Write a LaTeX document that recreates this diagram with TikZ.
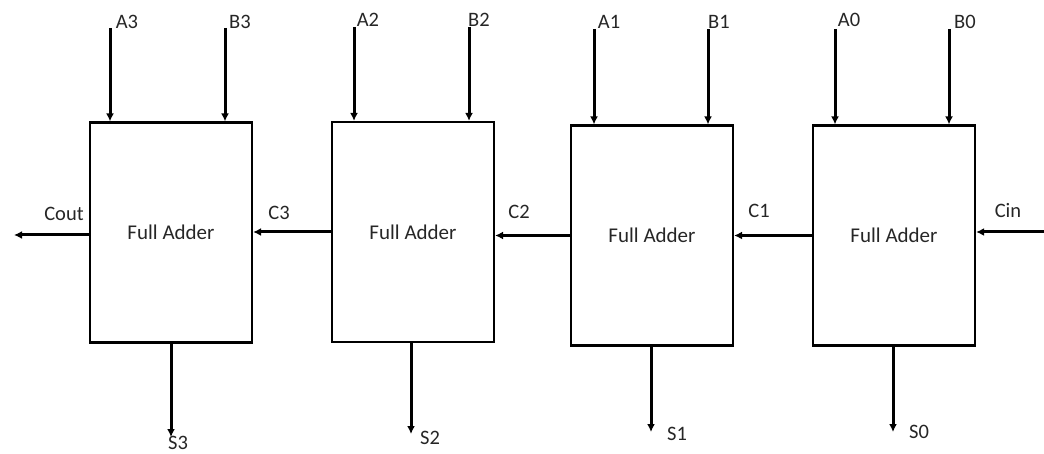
\documentclass[tikz,border=0pt]{standalone}
\usepackage{fontspec}
\setmainfont{Carlito}
\usetikzlibrary{arrows.meta}
\tikzset{
  fabox/.style={draw, line width=2.2pt, minimum width=162pt, minimum height=220pt, inner sep=0pt, font=\fontsize{21}{23}\selectfont, text=black!85},
  arr/.style={line width=3pt, -{Latex[length=8pt,width=8pt]}},
  lbl/.style={inner sep=0pt, font=\fontsize{20.5}{22}\selectfont, text=black!85}
}
\begin{document}
\begin{tikzpicture}[x=1pt,y=-1pt]
\useasboundingbox (0,0) rectangle (1044,454);
% boxes
\node[fabox] (fa3) at (171,232.5) {Full Adder};
\node[fabox] (fa2) at (413,232) {Full Adder};
\node[fabox] (fa1) at (652,235.5) {Full Adder};
\node[fabox] (fa0) at (894,235.5) {Full Adder};
% input coordinates
\coordinate (a3) at (110,28);  \coordinate (b3) at (225,28);
\coordinate (a2) at (354,27);  \coordinate (b2) at (469,27);
\coordinate (a1) at (594,29);  \coordinate (b1) at (708,29);
\coordinate (a0) at (835,29);  \coordinate (b0) at (949,29);
% sum outputs
\coordinate (s3) at (171,437);
\coordinate (s2) at (411,434);
\coordinate (s1) at (651,432);
\coordinate (s0) at (893,432);
% carry ends
\coordinate (cin) at (1044,232);
\coordinate (cout) at (14,235);
% input arrows
\foreach \i/\b in {a3/fa3,b3/fa3,a2/fa2,b2/fa2,a1/fa1,b1/fa1,a0/fa0,b0/fa0}
  \draw[arr] (\i) -- (\i |- \b.north);
% sum arrows
\draw[arr] (fa3.south -| s3) -- (s3);
\draw[arr] (fa2.south -| s2) -- (s2);
\draw[arr] (fa1.south -| s1) -- (s1);
\draw[arr] (fa0.south -| s0) -- (s0);
% carry arrows
\draw[arr] (cin) -- (fa0.east |- cin);
\draw[arr] (fa0.west) -- (fa1.east |- fa0.west);
\draw[arr] (fa1.west) -- (fa2.east |- fa1.west);
\draw[arr] (fa2.west) -- (fa3.east |- fa2.west);
\draw[arr] (fa3.west |- cout) -- (cout);
% labels
\node[lbl] (la3) at (127,22) {A3};
\node[lbl] (lb3) at (240,22) {B3};
\node[lbl] (la2) at (368,20) {A2};
\node[lbl] (lb2) at (479,20) {B2};
\node[lbl] (la1) at (609,22) {A1};
\node[lbl] (lb1) at (719,22) {B1};
\node[lbl] (la0) at (849,20) {A0};
\node[lbl] (lb0) at (965,22) {B0};
\node[lbl] (ls3) at (178,443) {S3};
\node[lbl] (ls2) at (430,438) {S2};
\node[lbl] (ls1) at (677,434) {S1};
\node[lbl] (ls0) at (919,432) {S0};
\node[lbl] (lcout) at (64,214) {Cout};
\node[lbl] (lc3) at (279,213) {C3};
\node[lbl] (lc2) at (519,212) {C2};
\node[lbl] (lc1) at (759,211) {C1};
\node[lbl] (lcin) at (1008,211) {Cin};
\end{tikzpicture}
\end{document}
